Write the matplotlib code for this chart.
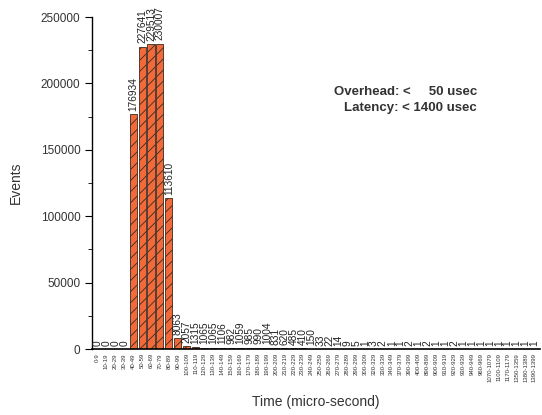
import matplotlib
matplotlib.use('Agg')
import matplotlib.pyplot as plt
import numpy as np
from matplotlib.ticker import MultipleLocator

plt.rcParams['font.family'] = ['Liberation Sans', 'DejaVu Sans']
plt.rcParams['hatch.linewidth'] = 0.6

bins = ['0-9', '10-19', '20-29', '30-39', '40-49', '50-59', '60-69', '70-79', '80-89', '90-99',
        '100-109', '110-119', '120-129', '130-139', '140-149', '150-159', '160-169', '170-179',
        '180-189', '190-199', '200-209', '210-219', '220-229', '230-239', '240-249', '250-259',
        '260-269', '270-279', '280-289', '290-299', '300-309', '320-329', '330-339', '340-349',
        '370-379', '390-399', '400-409', '890-899', '900-909', '910-919', '920-929', '930-939',
        '940-949', '960-969', '1070-1079', '1100-1109', '1170-1179', '1350-1359', '1380-1389',
        '1390-1399']
events = [0, 0, 0, 0, 176934, 227641, 229513, 230007, 113610, 8063,
          2057, 1315, 1065, 1065, 1106, 982, 1059, 985, 990, 1004,
          831, 620, 485, 410, 150, 33, 22, 14, 9, 5,
          1, 3, 2, 1, 1, 2, 1, 2, 1, 1,
          2, 1, 1, 1, 1, 1, 1, 1, 1, 1]

fig = plt.figure(figsize=(5.42, 4.15), dpi=100)
ax = fig.add_axes([0.170, 0.159, 0.826, 0.800])

x = np.arange(len(bins))
ax.bar(x, events, width=0.8, color='#f26a3a', edgecolor='#3a2a20', linewidth=0.6, hatch='///')

for xi, v in zip(x, events):
    ax.text(xi, v + 2500, str(v), rotation=90, ha='center', va='bottom', fontsize=7.3, color='#222222')

ax.set_xlim(-0.6, len(bins) - 0.4)
ax.set_ylim(0, 250000)
ax.set_xticks(x)
ax.set_xticklabels(bins, rotation=90, fontsize=4.3, color='#333333')
ax.tick_params(axis='x', length=0, pad=3)
ax.yaxis.set_major_locator(MultipleLocator(50000))
ax.yaxis.set_minor_locator(MultipleLocator(25000))
ax.tick_params(axis='y', which='major', length=5, direction='out', labelsize=8.5, labelcolor='#333333')
ax.tick_params(axis='y', which='minor', length=3, direction='out')

for s in ['top', 'right']:
    ax.spines[s].set_visible(False)
ax.spines['left'].set_linewidth(1)
ax.spines['bottom'].set_linewidth(1.2)

ax.set_ylabel('Events', fontsize=10, color='#333333')
ax.yaxis.set_label_coords(-0.155, 0.5)
ax.set_xlabel('Time (micro-second)', fontsize=10, color='#333333')
ax.xaxis.set_label_coords(0.5, -0.14)

ax.text(0.86, 0.775, 'Overhead: <     50 usec', transform=ax.transAxes, ha='right', va='center',
        fontsize=9.5, fontweight='bold', color='#333333')
ax.text(0.86, 0.727, 'Latency: < 1400 usec', transform=ax.transAxes, ha='right', va='center',
        fontsize=9.5, fontweight='bold', color='#333333')

fig.savefig('out.png', dpi=100)
